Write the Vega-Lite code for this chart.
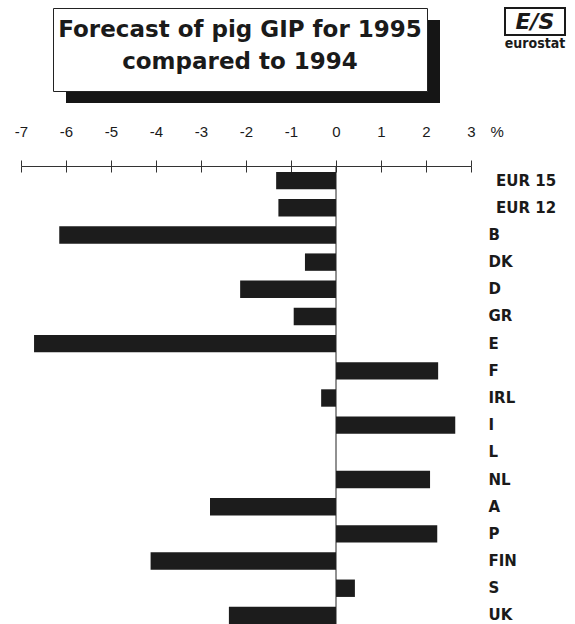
{
  "$schema": "https://vega.github.io/schema/vega-lite/v6.json",
  "background": "white",
  "padding": {"left": 0, "top": 7, "right": 0, "bottom": 0},
  "bounds": "flush",
  "align": "none",
  "columns": 4,
  "spacing": {"row": -95, "column": -418},
  "concat": [
    {"width": 1, "height": 83, "data": {"values": [{}]}, "mark": {"type": "rect", "opacity": 0}},
    {"width": 1, "height": 83, "data": {"values": [{}]}, "mark": {"type": "rect", "opacity": 0}},
    {"width": 374, "height": 83, "view": {"fill": "#151515", "stroke": null}, "data": {"values": [{}]}, "mark": {"type": "rect", "opacity": 0}},
    {"width": 1, "height": 83, "data": {"values": [{}]}, "mark": {"type": "rect", "opacity": 0}},
    {"width": 1, "height": 254, "data": {"values": [{}]}, "mark": {"type": "rect", "opacity": 0}},
    {
      "width": 374, "height": 83,
      "view": {"fill": "white", "stroke": "#222", "strokeWidth": 1},
      "data": {"values": [{"t": "Forecast of pig GIP for 1995\ncompared to 1994"}]},
      "mark": {"type": "text", "font": "DejaVu Sans", "fontWeight": "bold", "fontSize": 23, "lineBreak": "\n", "lineHeight": 32, "baseline": "middle", "align": "center", "dy": -19.5, "color": "#1a1a1a"},
      "encoding": {"text": {"field": "t", "type": "nominal"}}
    },
    {"width": 857, "height": 1, "data": {"values": [{}]}, "mark": {"type": "rect", "opacity": 0}},
    {
      "width": 60, "height": 27,
      "view": {"fill": "white", "stroke": "#1a1a1a", "strokeWidth": 2},
      "data": {"values": [{"t": "E/S"}]},
      "mark": {"type": "text", "font": "DejaVu Sans", "fontWeight": "bold", "fontStyle": "italic", "fontSize": 22, "baseline": "middle", "align": "center", "color": "#1a1a1a"},
      "encoding": {"text": {"field": "t", "type": "nominal"}},
      "title": {"text": "eurostat", "orient": "bottom", "anchor": "middle", "font": "DejaVu Sans Condensed", "fontWeight": "bold", "fontSize": 14, "offset": 2, "color": "#1a1a1a"}
    },
    {
      "width": 471, "height": 462,
      "layer": [
        {
          "data": {"values": [
            {"c": "EUR 15", "v": -1.33},
            {"c": "EUR 12", "v": -1.28},
            {"c": "B", "v": -6.15},
            {"c": "DK", "v": -0.69},
            {"c": "D", "v": -2.13},
            {"c": "GR", "v": -0.94},
            {"c": "E", "v": -6.71},
            {"c": "F", "v": 2.27},
            {"c": "IRL", "v": -0.33},
            {"c": "I", "v": 2.65},
            {"c": "L", "v": 0},
            {"c": "NL", "v": 2.09},
            {"c": "A", "v": -2.8},
            {"c": "P", "v": 2.25},
            {"c": "FIN", "v": -4.12},
            {"c": "S", "v": 0.42},
            {"c": "UK", "v": -2.38}
          ]},
          "mark": {"type": "bar", "color": "#1c1c1c"},
          "encoding": {
            "x": {
              "field": "v", "type": "quantitative",
              "scale": {"domain": [-7, 3], "range": [21, 471], "nice": false},
              "axis": {
                "orient": "top", "values": [-7, -6, -5, -4, -3, -2, -1, 0, 1, 2, 3],
                "offset": 1, "grid": false, "tickSize": 6, "tickColor": "#333", "tickWidth": 1,
                "domainColor": "#333", "domainWidth": 1,
                "labelExpr": "'' + datum.value", "labelFont": "Liberation Sans", "labelFontSize": 15,
                "labelColor": "#1a1a1a", "labelPadding": 21, "labelFlush": false, "labelOverlap": false,
                "title": "%", "titleX": 490, "titleY": -30, "titleAlign": "left", "titleAngle": 0,
                "titleBaseline": "alphabetic", "titleFont": "Liberation Sans", "titleFontSize": 15,
                "titleFontWeight": "normal", "titleColor": "#1a1a1a"
              }
            },
            "y": {
              "field": "c", "type": "nominal", "sort": null,
              "scale": {"paddingInner": 0.36, "paddingOuter": 0.18},
              "axis": {
                "orient": "right", "title": null, "ticks": false, "domain": false,
                "labelPadding": 17, "labelAlign": "left", "labelFont": "DejaVu Sans",
                "labelFontWeight": "bold", "labelFontSize": 15, "labelColor": "#1a1a1a",
                "labelExpr": "indexof(datum.value, 'EUR') == 0 ? '\u200b\u2002' + datum.value : datum.value"
              }
            }
          }
        },
        {
          "data": {"values": [{"z": 0}]},
          "mark": {"type": "rule", "color": "#222", "strokeWidth": 1},
          "encoding": {
            "x": {
              "field": "z", "type": "quantitative",
              "scale": {"domain": [-7, 3], "range": [21, 471], "nice": false},
              "axis": {
                "orient": "top", "values": [-7, -6, -5, -4, -3, -2, -1, 0, 1, 2, 3],
                "offset": 1, "grid": false, "tickSize": -6, "tickColor": "#333", "tickWidth": 1,
                "domain": false, "labels": false, "title": null
              }
            }
          }
        }
      ],
      "resolve": {"axis": {"x": "independent"}}
    },
    {"width": 431, "height": 1, "data": {"values": [{}]}, "mark": {"type": "rect", "opacity": 0}},
    {"width": 1, "height": 1, "data": {"values": [{}]}, "mark": {"type": "rect", "opacity": 0}},
    {"width": 1, "height": 1, "data": {"values": [{}]}, "mark": {"type": "rect", "opacity": 0}}
  ],
  "config": {
    "view": {"stroke": null},
    "axis": {"labelFont": "Liberation Sans"}
  }
}
